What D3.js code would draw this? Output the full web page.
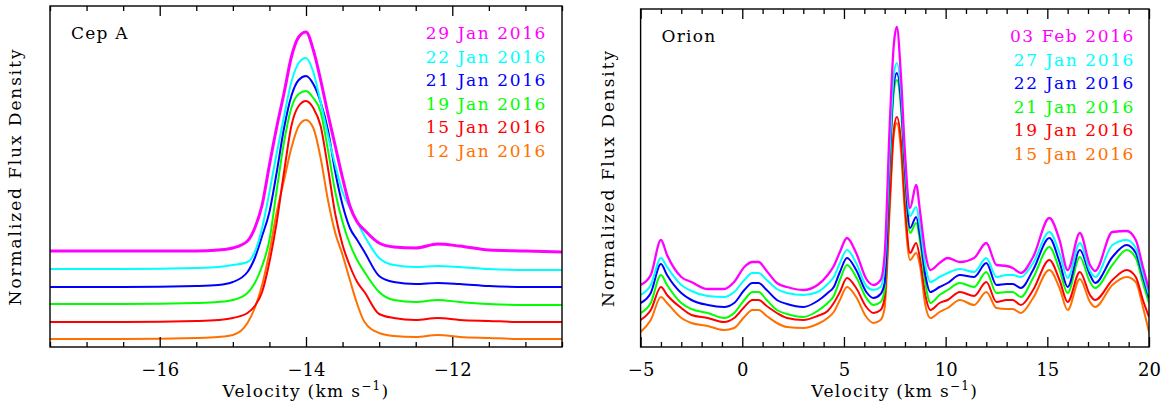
<!DOCTYPE html>
<html>
<head>
<meta charset="utf-8">
<script src="https://cdn.jsdelivr.net/npm/d3@7"></script>
<style>
  body { margin: 0; background: #fff; }
  text { font-family: "DejaVu Serif", serif; }
</style>
</head>
<body>
<svg id="chart" width="1162" height="402"></svg>
<script>
// ---- Cep A spectra (velocity in km/s, normalized flux with vertical offsets) ----
const cepVelocity = [-17.5, -16.5, -15.5, -15.2, -15.0, -14.8, -14.7, -14.6, -14.5, -14.4, -14.3, -14.2, -14.1, -14.0, -13.9, -13.8, -13.7, -13.6, -13.5, -13.4, -13.3, -13.2, -13.0, -12.8, -12.5, -12.2, -11.9, -11.5, -11.0, -10.5];
const cep29Jan = [0.96,0.96,0.96,0.97,0.99,1.06,1.19,1.42,1.82,2.20,2.54,2.90,3.10,3.15,2.97,2.67,2.33,2.01,1.69,1.41,1.25,1.17,1.04,1.00,0.99,1.03,1.01,0.97,0.96,0.95];
const cep22Jan = [0.78,0.78,0.79,0.80,0.82,0.85,0.95,1.19,1.55,1.94,2.31,2.65,2.84,2.89,2.75,2.45,2.12,1.82,1.55,1.39,1.25,1.11,0.89,0.82,0.80,0.81,0.80,0.78,0.77,0.77];
const cep21Jan = [0.60,0.60,0.61,0.62,0.65,0.75,0.89,1.11,1.35,1.75,2.19,2.51,2.67,2.71,2.63,2.45,2.17,1.75,1.42,1.19,1.07,0.95,0.71,0.65,0.63,0.64,0.63,0.61,0.60,0.60];
const cep19Jan = [0.43,0.43,0.44,0.45,0.47,0.54,0.64,0.81,1.07,1.57,2.05,2.39,2.53,2.56,2.49,2.35,1.97,1.55,1.25,1.03,0.87,0.75,0.55,0.47,0.45,0.47,0.45,0.43,0.42,0.42];
const cep15Jan = [0.25,0.25,0.26,0.27,0.29,0.34,0.41,0.55,0.85,1.25,1.75,2.21,2.41,2.46,2.39,2.21,1.79,1.33,1.02,0.81,0.65,0.55,0.33,0.29,0.27,0.29,0.27,0.26,0.25,0.25];
const cep12Jan = [0.08,0.08,0.09,0.10,0.12,0.24,0.39,0.62,0.95,1.35,1.67,1.99,2.21,2.27,2.19,1.89,1.47,1.14,0.92,0.67,0.43,0.25,0.14,0.11,0.10,0.12,0.10,0.09,0.08,0.08];
const cepDates = ["29 Jan 2016", "22 Jan 2016", "21 Jan 2016", "19 Jan 2016", "15 Jan 2016", "12 Jan 2016"];

// ---- Orion spectra ----
const orionVelocity = [-5, -4.5, -4.0, -3.7, -3.0, -2.5, -1.7, -0.9, -0.4, 0.1, 0.5, 0.8, 1.2, 1.7, 2.2, 3.0, 3.7, 4.2, 4.5, 4.8, 5.15, 5.6, 6.1, 6.45, 6.8, 7.0, 7.25, 7.45, 7.6, 7.8, 8.0, 8.25, 8.55, 8.75, 9.0, 9.25, 9.7, 10.1, 10.7, 11.4, 12.0, 12.5, 13.0, 13.3, 13.7, 14.3, 15.1, 15.6, 16.0, 16.6, 17.1, 17.35, 18.2, 18.9, 19.35, 19.7, 20];
const orion03Feb = [0.62,0.72,1.07,0.92,0.70,0.65,0.58,0.58,0.65,0.80,0.85,0.85,0.76,0.64,0.60,0.57,0.62,0.72,0.81,0.95,1.09,0.94,0.68,0.62,0.67,0.92,2.22,3.02,3.20,2.72,1.94,1.39,1.62,1.34,0.94,0.77,0.84,0.89,0.85,0.89,1.04,0.82,0.81,0.79,0.74,0.90,1.29,1.07,0.77,1.14,0.82,0.76,1.15,1.16,1.07,0.80,0.57];
const orion27Jan = [0.52,0.62,0.89,0.80,0.62,0.56,0.51,0.50,0.55,0.67,0.74,0.74,0.67,0.58,0.54,0.52,0.55,0.63,0.70,0.84,0.97,0.84,0.61,0.57,0.60,0.82,1.97,2.72,2.84,2.57,1.87,1.31,1.40,1.19,0.82,0.65,0.70,0.74,0.78,0.75,0.89,0.70,0.72,0.72,0.70,0.84,1.15,0.94,0.69,1.04,0.76,0.70,1.02,1.07,0.99,0.74,0.52];
const orion22Jan = [0.44,0.54,0.83,0.72,0.54,0.47,0.42,0.40,0.44,0.57,0.64,0.64,0.57,0.47,0.43,0.40,0.46,0.54,0.60,0.75,0.89,0.77,0.55,0.49,0.53,0.64,1.87,2.62,2.74,2.47,1.77,1.19,1.30,1.10,0.72,0.55,0.60,0.64,0.72,0.70,0.84,0.62,0.63,0.63,0.59,0.77,1.09,0.85,0.60,0.97,0.72,0.64,0.90,1.02,0.94,0.70,0.49];
const orion21Jan = [0.34,0.44,0.72,0.62,0.44,0.38,0.34,0.29,0.34,0.47,0.55,0.55,0.47,0.37,0.33,0.30,0.36,0.44,0.51,0.67,0.82,0.70,0.49,0.42,0.45,0.57,1.77,2.55,2.67,2.39,1.67,1.14,1.24,1.04,0.64,0.44,0.52,0.57,0.64,0.60,0.75,0.54,0.55,0.55,0.50,0.69,1.00,0.77,0.54,0.90,0.65,0.59,0.82,0.97,0.89,0.64,0.44];
const orion19Jan = [0.27,0.37,0.60,0.52,0.39,0.32,0.29,0.25,0.29,0.40,0.47,0.47,0.41,0.34,0.29,0.27,0.31,0.36,0.44,0.55,0.69,0.59,0.40,0.34,0.37,0.49,1.47,2.17,2.30,2.07,1.42,0.94,1.04,0.87,0.52,0.37,0.44,0.47,0.55,0.51,0.65,0.45,0.47,0.47,0.42,0.57,0.87,0.67,0.45,0.75,0.52,0.47,0.67,0.77,0.70,0.47,0.30];
const orion15Jan = [0.15,0.27,0.50,0.44,0.29,0.24,0.21,0.17,0.19,0.30,0.37,0.37,0.31,0.24,0.20,0.19,0.23,0.29,0.35,0.47,0.60,0.50,0.30,0.24,0.27,0.39,1.37,2.12,2.24,1.97,1.32,0.87,0.94,0.80,0.42,0.29,0.35,0.39,0.47,0.42,0.55,0.39,0.38,0.38,0.34,0.49,0.77,0.59,0.37,0.68,0.45,0.40,0.62,0.70,0.65,0.40,0.15];
const orionDates = ["03 Feb 2016", "27 Jan 2016", "22 Jan 2016", "21 Jan 2016", "19 Jan 2016", "15 Jan 2016"];

// ---- Axis ticks ----
const cepMajorTicks = [-16, -14, -12];
const cepMinorTicks = [-17.5, -17, -16.5, -15.5, -15, -14.5, -13.5, -13, -12.5, -11.5, -11, -10.5];
const orionMajorTicks = [-5, 0, 5, 10, 15, 20];
const orionMinorTicks = [-4, -3, -2, -1, 1, 2, 3, 4, 6, 7, 8, 9, 11, 12, 13, 14, 16, 17, 18, 19];

// line colours, newest epoch first
const epochColors = ["#ff00ff", "#00ffff", "#0000ff", "#00ff00", "#ff0000", "#ff7000"];

const svg = d3.select("#chart");

function drawPanel(cfg) {
  const x = d3.scaleLinear().domain(cfg.xDomain).range([cfg.left, cfg.right]);
  const y = d3.scaleLinear().domain(cfg.yDomain).range([cfg.bottom, cfg.top]);
  const g = svg.append("g");

  const clipId = "clip-" + cfg.name.replace(/\s/g, "");
  svg.append("clipPath").attr("id", clipId)
    .append("rect")
    .attr("x", cfg.left).attr("y", cfg.top)
    .attr("width", cfg.right - cfg.left).attr("height", cfg.bottom - cfg.top);

  const line = d3.line()
    .x((d, i) => x(cfg.velocity[i]))
    .y(d => y(d))
    .curve(d3.curveMonotoneX);

  // oldest first so the newest epoch sits on top
  const order = d3.range(cfg.series.length).reverse();
  g.append("g").attr("clip-path", `url(#${clipId})`)
    .selectAll("path")
    .data(order)
    .join("path")
    .attr("d", i => line(cfg.series[i]))
    .attr("fill", "none")
    .attr("stroke", i => epochColors[i])
    .attr("stroke-width", i => (i === 0 ? cfg.firstWidth : 2))
    .attr("stroke-linejoin", "round");

  // ticks on bottom and top, pointing inward
  const bottomMajor = d3.axisBottom(x).tickValues(cfg.major).tickSize(-10)
    .tickPadding(16).tickFormat(d3.format("d"));
  const bottomMinor = d3.axisBottom(x).tickValues(cfg.minor).tickSize(-5).tickFormat("");
  const topMajor = d3.axisTop(x).tickValues(cfg.major).tickSize(-10).tickFormat("");
  const topMinor = d3.axisTop(x).tickValues(cfg.minor).tickSize(-5).tickFormat("");

  const axes = [
    [bottomMajor, cfg.bottom], [bottomMinor, cfg.bottom],
    [topMajor, cfg.top], [topMinor, cfg.top]
  ];
  axes.forEach(([ax, pos]) => {
    const a = g.append("g").attr("transform", `translate(0,${pos})`).call(ax);
    a.select(".domain").remove();
    a.selectAll("line").attr("stroke", "#000").attr("stroke-width", 1.3);
    a.selectAll("text").attr("font-size", 18).attr("fill", "#000")
      .style("font-family", '"DejaVu Serif", serif');
  });

  // frame
  g.append("rect")
    .attr("x", cfg.left).attr("y", cfg.top)
    .attr("width", cfg.right - cfg.left).attr("height", cfg.bottom - cfg.top)
    .attr("fill", "none").attr("stroke", "#000").attr("stroke-width", 1.4);

  // source name
  g.append("text")
    .attr("x", cfg.left + cfg.nameDx).attr("y", cfg.top + cfg.nameDy)
    .attr("font-size", 17).attr("letter-spacing", 1.2)
    .text(cfg.name);

  // epoch legend
  g.append("g").selectAll("text")
    .data(cfg.dates)
    .join("text")
    .attr("x", cfg.legendRight)
    .attr("y", (d, i) => cfg.top + cfg.legendDy + i * 23.6)
    .attr("text-anchor", "end")
    .attr("font-size", 17).attr("letter-spacing", 1.6)
    .attr("fill", (d, i) => epochColors[i])
    .text(d => d);

  // axis titles
  const xt = g.append("text")
    .attr("x", (cfg.left + cfg.right) / 2).attr("y", 397)
    .attr("text-anchor", "middle").attr("font-size", 17).attr("letter-spacing", 1.3);
  xt.append("tspan").text("Velocity (km s");
  xt.append("tspan").attr("dy", -7).attr("font-size", 12).text("\u22121");
  xt.append("tspan").attr("dy", 7).text(")");

  g.append("text")
    .attr("transform", `translate(${cfg.yTitleX},${(cfg.top + cfg.bottom) / 2}) rotate(-90)`)
    .attr("text-anchor", "middle").attr("font-size", 17).attr("letter-spacing", 1.9)
    .text("Normalized Flux Density");
}

drawPanel({
  name: "Cep A",
  velocity: cepVelocity,
  series: [cep29Jan, cep22Jan, cep21Jan, cep19Jan, cep15Jan, cep12Jan],
  dates: cepDates,
  xDomain: [-17.5, -10.5], yDomain: [0, 3.41],
  left: 50, right: 562, top: 6, bottom: 347,
  major: cepMajorTicks, minor: cepMinorTicks,
  firstWidth: 3,
  nameDx: 21, nameDy: 33,
  legendRight: 547, legendDy: 33,
  yTitleX: 21
});

drawPanel({
  name: "Orion",
  velocity: orionVelocity,
  series: [orion03Feb, orion27Jan, orion22Jan, orion21Jan, orion19Jan, orion15Jan],
  dates: orionDates,
  xDomain: [-5, 20], yDomain: [0, 3.38],
  left: 640.6, right: 1149, top: 9, bottom: 347,
  major: orionMajorTicks, minor: orionMinorTicks,
  firstWidth: 2.3,
  nameDx: 21, nameDy: 33,
  legendRight: 1135, legendDy: 33,
  yTitleX: 614
});
</script>
</body>
</html>
